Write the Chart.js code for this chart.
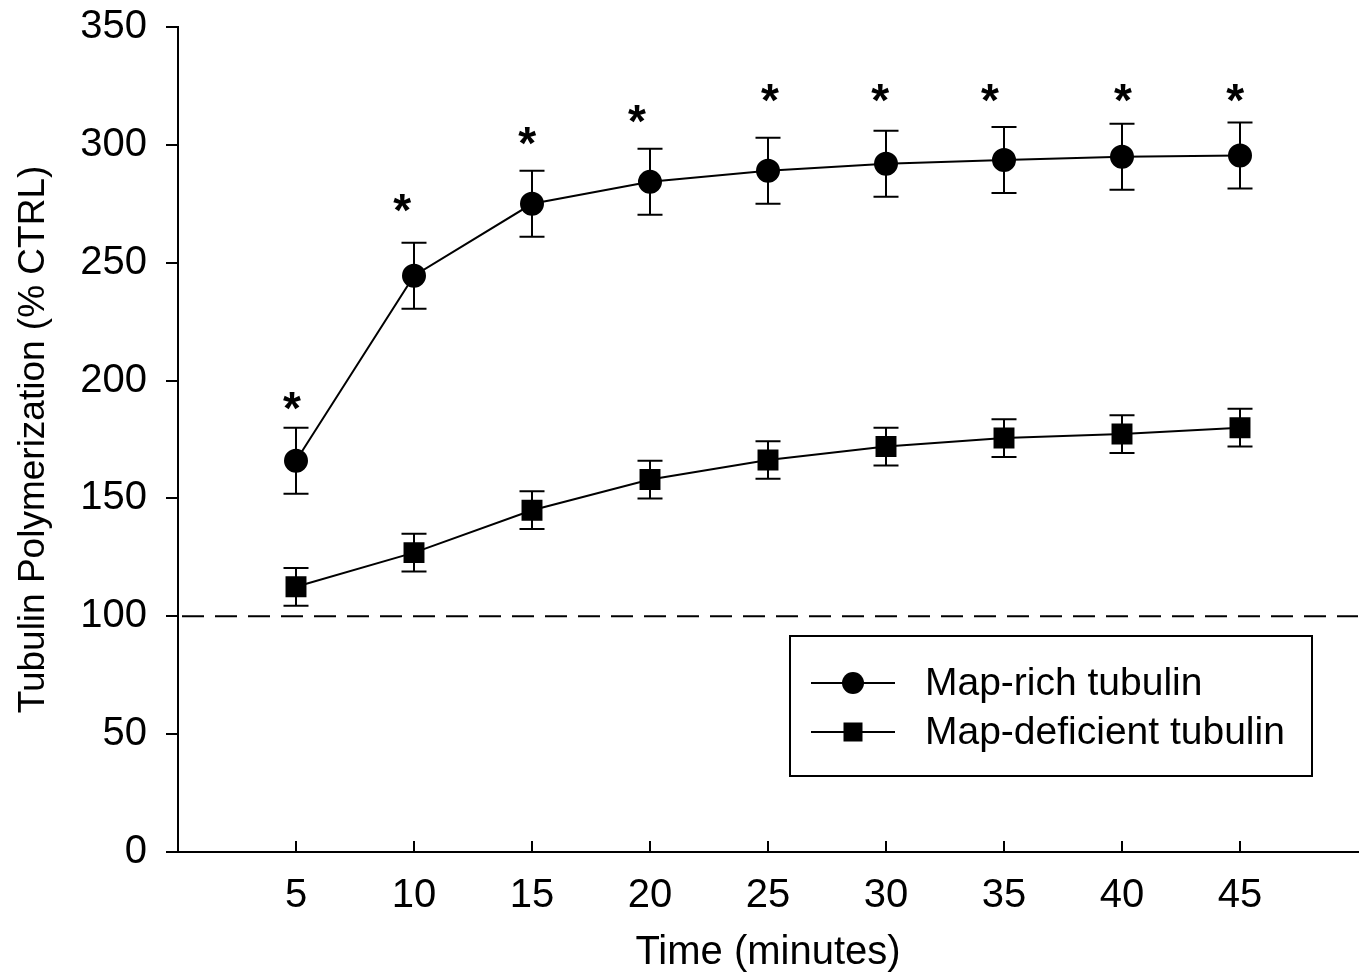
<!DOCTYPE html>
<html>
<head>
<meta charset="utf-8">
<script src="https://cdn.jsdelivr.net/npm/chart.js@4.4.0/dist/chart.umd.min.js"></script>
<style>
  html, body { margin: 0; padding: 0; background: #fff; overflow: hidden; }
  #wrap { width: 1367px; height: 977px; }
  canvas { display: block; }
</style>
</head>
<body>
<div id="wrap"><canvas id="tubulinChart" width="1367" height="977"></canvas></div>
<script>
// Data
const timePoints = [5, 10, 15, 20, 25, 30, 35, 40, 45];
const xTicks = [5, 10, 15, 20, 25, 30, 35, 40, 45];
const yTicks = [0, 50, 100, 150, 200, 250, 300, 350];
const richValues = [166, 244.5, 275, 284.3, 289, 292, 293.6, 295, 295.5];
const richErrors = [14, 14, 14, 14, 14, 14, 14, 14, 14];
const deficientValues = [112.5, 127, 145, 158, 166.3, 172, 175.6, 177.3, 180];
const deficientErrors = [8, 8, 8, 8, 8, 8, 8, 8, 8];
// significance asterisks (x in minutes, y in % CTRL)
const starX = [4.83, 9.5, 14.8, 19.45, 25.08, 29.75, 34.4, 40.04, 44.8];
const starY = [192.6, 276.6, 305, 314.4, 323.3, 323.3, 323.3, 323.3, 323.3];
const baselineValue = 100;

const FONT = '"Liberation Sans", Arial, sans-serif';
Chart.defaults.color = '#000';
Chart.defaults.font.family = FONT;

function toPoints(xs, ys) {
    return xs.map((x, i) => ({ x: x, y: ys[i] }));
}

// error bars drawn under the markers
const errorBarPlugin = {
    id: 'errorBars',
    beforeDatasetsDraw(chart) {
        const ctx = chart.ctx;
        const xs = chart.scales.x, ys = chart.scales.y;
        const sets = [[richValues, richErrors], [deficientValues, deficientErrors]];
        ctx.save();
        ctx.strokeStyle = '#000';
        ctx.lineWidth = 2;
        sets.forEach(([vals, errs]) => {
            vals.forEach((v, i) => {
                const px = xs.getPixelForValue(timePoints[i]);
                const top = ys.getPixelForValue(v + errs[i]);
                const bot = ys.getPixelForValue(v - errs[i]);
                ctx.beginPath();
                ctx.moveTo(px, top); ctx.lineTo(px, bot);
                ctx.moveTo(px - 12.5, top); ctx.lineTo(px + 12.5, top);
                ctx.moveTo(px - 12.5, bot); ctx.lineTo(px + 12.5, bot);
                ctx.stroke();
            });
        });
        // dashed control line
        const yb = ys.getPixelForValue(baselineValue);
        ctx.setLineDash([22, 11]);
        ctx.beginPath();
        ctx.moveTo(chart.chartArea.left + 4, yb);
        ctx.lineTo(chart.chartArea.right, yb);
        ctx.stroke();
        ctx.restore();
    }
};

// inward x ticks, asterisks and boxed legend
const extrasPlugin = {
    id: 'extras',
    afterDraw(chart) {
        const ctx = chart.ctx;
        const xs = chart.scales.x, ys = chart.scales.y;
        const area = chart.chartArea;
        ctx.save();
        ctx.strokeStyle = '#000';
        ctx.fillStyle = '#000';
        ctx.lineWidth = 2;
        xTicks.forEach(t => {
            const px = xs.getPixelForValue(t);
            ctx.beginPath();
            ctx.moveTo(px, area.bottom);
            ctx.lineTo(px, area.bottom - 11);
            ctx.stroke();
        });

        ctx.font = 'bold 46px ' + FONT;
        ctx.textAlign = 'center';
        ctx.textBaseline = 'alphabetic';
        starX.forEach((sx, i) => {
            ctx.fillText('*', xs.getPixelForValue(sx), ys.getPixelForValue(starY[i]) + 26);
        });

        // legend box
        const bx = 790, by = 636, bw = 522, bh = 140;
        ctx.lineWidth = 2;
        ctx.strokeRect(bx, by, bw, bh);
        ctx.font = '39px ' + FONT;
        ctx.textAlign = 'left';
        ctx.textBaseline = 'middle';
        chart.data.datasets.forEach((ds, i) => {
            const ly = 683 + i * 49;
            ctx.beginPath();
            ctx.moveTo(811, ly); ctx.lineTo(895, ly);
            ctx.stroke();
            if (ds.pointStyle === 'rect') {
                ctx.fillRect(853 - 9.5, ly - 9.5, 19, 19);
            } else {
                ctx.beginPath();
                ctx.arc(853, ly, 11, 0, Math.PI * 2);
                ctx.fill();
            }
            ctx.fillText(ds.label, 925, ly + 1);
        });
        ctx.restore();
    }
};

function noScalePadding(s) {
    s.paddingTop = 0; s.paddingBottom = 0;
    s.paddingLeft = 0; s.paddingRight = 0;
}

const ctx = document.getElementById('tubulinChart').getContext('2d');
new Chart(ctx, {
    type: 'line',
    data: {
        datasets: [
            {
                label: 'Map-rich tubulin',
                data: toPoints(timePoints, richValues),
                borderColor: '#000', backgroundColor: '#000', borderWidth: 2,
                pointStyle: 'circle', pointRadius: 11, pointHoverRadius: 11,
                tension: 0
            },
            {
                label: 'Map-deficient tubulin',
                data: toPoints(timePoints, deficientValues),
                borderColor: '#000', backgroundColor: '#000', borderWidth: 2,
                pointStyle: 'rect', pointRadius: 13.4, pointHoverRadius: 13.4,
                tension: 0
            }
        ]
    },
    options: {
        responsive: false,
        animation: false,
        layout: { autoPadding: false, padding: { top: 27, right: 9, left: 0, bottom: 0 } },
        plugins: { legend: { display: false }, tooltip: { enabled: false } },
        scales: {
            x: {
                type: 'linear', min: 0, max: 50,
                afterBuildTicks: (s) => { s.ticks = xTicks.map(v => ({ value: v })); },
                afterFit: (s) => { s.height = 125; noScalePadding(s); },
                border: { color: '#000', width: 2 },
                grid: { drawOnChartArea: false, drawTicks: false },
                ticks: { font: { size: 40 }, padding: 20, maxRotation: 0, autoSkip: false },
                title: { display: true, text: 'Time (minutes)', font: { size: 40 }, padding: { top: 0, bottom: 0 } }
            },
            y: {
                min: 0, max: 350,
                afterBuildTicks: (s) => { s.ticks = yTicks.map(v => ({ value: v })); },
                afterFit: (s) => { s.width = 178; noScalePadding(s); },
                border: { color: '#000', width: 2 },
                grid: { drawOnChartArea: false, drawTicks: true, tickLength: 12, color: '#000', lineWidth: 2 },
                ticks: { font: { size: 40 }, padding: 19 },
                title: { display: true, text: 'Tubulin Polymerization (% CTRL)', font: { size: 37 }, padding: { top: 12, bottom: 0 } }
            }
        }
    },
    plugins: [errorBarPlugin, extrasPlugin]
});
</script>
</body>
</html>
